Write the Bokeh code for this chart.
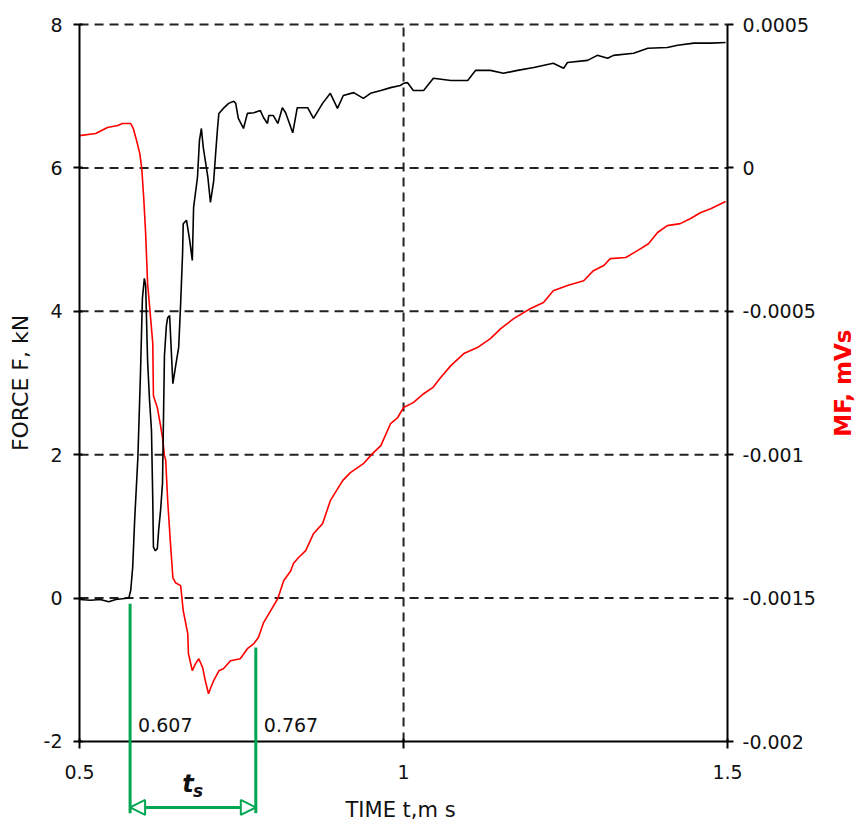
import math
from bokeh.plotting import figure
from bokeh.models import (Range1d, LinearAxis, FixedTicker, CustomJSTickFormatter,
                          Arrow, NormalHead, Label)
from bokeh.embed import file_html
from bokeh.resources import INLINE

# ---------------- data ----------------
force_t = [0.500, 0.517, 0.532, 0.545, 0.556, 0.566, 0.576, 0.579, 0.582, 0.585,
           0.590, 0.594, 0.597, 0.600, 0.602, 0.605, 0.608, 0.611, 0.613, 0.614,
           0.617, 0.620, 0.622, 0.625, 0.628, 0.631, 0.634, 0.636, 0.639, 0.644,
           0.648, 0.653, 0.656, 0.659, 0.660, 0.665, 0.670, 0.674, 0.676, 0.682,
           0.685, 0.688, 0.691, 0.698, 0.702, 0.707, 0.710, 0.713, 0.715, 0.722,
           0.730, 0.738, 0.741, 0.745, 0.753, 0.759, 0.769, 0.779, 0.784, 0.790,
           0.792, 0.799, 0.806, 0.813, 0.818, 0.829, 0.836, 0.852, 0.861, 0.875,
           0.887, 0.898, 0.907, 0.923, 0.938, 0.949, 0.965, 0.980, 0.995, 1.000,
           1.006, 1.015, 1.031, 1.046, 1.073, 1.099, 1.111, 1.134, 1.154, 1.176,
           1.201, 1.231, 1.247, 1.253, 1.284, 1.299, 1.315, 1.324, 1.355, 1.377,
           1.407, 1.423, 1.448, 1.474, 1.497]
force_kn = [-0.02, -0.03, -0.02, -0.05, -0.02, -0.01, 0.00, 0.11, 0.43, 1.08,
            1.96, 3.13, 4.18, 4.46, 4.36, 3.31, 2.76, 2.34, 1.36, 0.71,
            0.66, 0.69, 0.94, 1.22, 1.60, 3.38, 3.80, 3.91, 3.94, 2.99,
            3.22, 3.50, 4.11, 4.81, 5.22, 5.27, 4.99, 4.71, 5.45, 5.87,
            6.38, 6.55, 6.28, 5.87, 5.52, 5.82, 6.20, 6.56, 6.76, 6.83,
            6.90, 6.93, 6.90, 6.69, 6.55, 6.76, 6.77, 6.80, 6.70, 6.62,
            6.73, 6.73, 6.62, 6.84, 6.77, 6.49, 6.84, 6.84, 6.69, 6.90,
            7.04, 6.83, 7.01, 7.05, 6.97, 7.04, 7.08, 7.12, 7.15, 7.18,
            7.19, 7.08, 7.08, 7.25, 7.22, 7.22, 7.36, 7.36, 7.32, 7.36,
            7.40, 7.46, 7.39, 7.47, 7.50, 7.57, 7.53, 7.57, 7.60, 7.67,
            7.68, 7.71, 7.74, 7.74, 7.75]

mf_t = [0.500, 0.525, 0.543, 0.559, 0.566, 0.579, 0.583, 0.588, 0.593, 0.596,
        0.599, 0.602, 0.605, 0.610, 0.613, 0.614, 0.620, 0.625, 0.628, 0.631,
        0.633, 0.636, 0.640, 0.644, 0.648, 0.656, 0.660, 0.667, 0.668, 0.674,
        0.679, 0.684, 0.690, 0.694, 0.699, 0.702, 0.707, 0.715, 0.722, 0.733,
        0.748, 0.759, 0.769, 0.776, 0.784, 0.795, 0.806, 0.815, 0.826, 0.830,
        0.838, 0.849, 0.861, 0.875, 0.887, 0.906, 0.918, 0.938, 0.952, 0.965,
        0.980, 0.991, 1.000, 1.015, 1.031, 1.045, 1.057, 1.073, 1.093, 1.114,
        1.134, 1.150, 1.170, 1.196, 1.216, 1.231, 1.253, 1.278, 1.293, 1.309,
        1.319, 1.343, 1.361, 1.378, 1.392, 1.407, 1.427, 1.443, 1.458, 1.474,
        1.497]
mf_mvs = [0.000113, 0.000120, 0.000141, 0.000148, 0.000155, 0.000155, 0.000137, 0.000096, 0.000050, -0.000002,
          -0.000103, -0.000229, -0.000403, -0.000532, -0.000612, -0.000794, -0.000835, -0.000898, -0.000940, -0.001003,
          -0.001020, -0.001160, -0.001299, -0.001428, -0.001446, -0.001456, -0.001543, -0.001624, -0.001693, -0.001753,
          -0.001728, -0.001711, -0.001742, -0.001787, -0.001833, -0.001815, -0.001787, -0.001753, -0.001746, -0.001718,
          -0.001711, -0.001676, -0.001658, -0.001637, -0.001585, -0.001543, -0.001501, -0.001439, -0.001404, -0.001379,
          -0.001358, -0.001334, -0.001275, -0.001240, -0.001160, -0.001090, -0.001062, -0.001031, -0.000996, -0.000968,
          -0.000891, -0.000870, -0.000835, -0.000818, -0.000787, -0.000766, -0.000731, -0.000689, -0.000647, -0.000626,
          -0.000595, -0.000560, -0.000525, -0.000490, -0.000469, -0.000428, -0.000410, -0.000393, -0.000358, -0.000340,
          -0.000316, -0.000312, -0.000288, -0.000264, -0.000225, -0.000201, -0.000194, -0.000176, -0.000156, -0.000142,
          -0.000117]

x_ticks = [0.5, 1.0, 1.5]
force_ticks = [-2, 0, 2, 4, 6, 8]
mf_ticks = [-0.002, -0.0015, -0.001, -0.0005, 0.0, 0.0005]

x_title = "TIME t,m s"
force_title = "FORCE F, kN"
mf_title = "MF, mVs"

# t_s annotation (positions of the green markers, their labels)
ts_times = [0.578, 0.772]
ts_labels = ["0.607", "0.767"]
ts_top_force = [-0.08, -0.69]
ts_bottom_force = -3.0
ts_arrow_force = -2.92

FONT = "DejaVu Sans"
GREEN = "#00A651"
INK = "#111111"

# The frame covers the whole canvas; the axes are placed at fixed locations so
# that everything drawn around the axes box (t_s marks, titles) is not clipped.
X_VIEW = (0.378, 1.699)
F_VIEW = (-3.186, 8.335)
MF_VIEW = (-0.002296, 0.000584)

p = figure(width=856, height=826,
           x_range=Range1d(*X_VIEW), y_range=Range1d(*F_VIEW),
           output_backend="svg", toolbar_location=None,
           min_border_left=0, min_border_right=0,
           min_border_top=0, min_border_bottom=0)
p.extra_y_ranges = {"mf": Range1d(*MF_VIEW)}
p.outline_line_color = None
p.background_fill_color = "white"
p.border_fill_color = "white"
p.xgrid.visible = False
p.ygrid.visible = False
p.xaxis.visible = False
p.yaxis.visible = False

fmt = CustomJSTickFormatter(code="return tick.toString()")

ax_b = LinearAxis(ticker=FixedTicker(ticks=x_ticks), fixed_location=force_ticks[0],
                  bounds=(x_ticks[0], x_ticks[-1]))
ax_l = LinearAxis(ticker=FixedTicker(ticks=force_ticks), fixed_location=x_ticks[0],
                  bounds=(force_ticks[0], force_ticks[-1]))
ax_r = LinearAxis(y_range_name="mf", ticker=FixedTicker(ticks=mf_ticks),
                  fixed_location=x_ticks[-1], bounds=(mf_ticks[0], mf_ticks[-1]))
p.add_layout(ax_b, "below")
p.add_layout(ax_l, "left")
p.add_layout(ax_r, "right")

for ax in (ax_b, ax_l, ax_r):
    ax.formatter = fmt
    ax.axis_line_color = "black"
    ax.axis_line_width = 2
    ax.major_tick_line_color = "black"
    ax.major_tick_line_width = 2
    ax.minor_tick_line_color = None
    ax.major_label_text_font = FONT
    ax.major_label_text_font_size = "19px"
    ax.major_label_text_color = INK

ax_b.major_tick_in = 3
ax_b.major_tick_out = 7
ax_b.major_label_standoff = 17

ax_l.major_tick_in = 3
ax_l.major_tick_out = 6
ax_l.major_label_standoff = 11

ax_r.major_tick_in = 0
ax_r.major_tick_out = 6
ax_r.major_label_standoff = 9

# dashed grid lines inside the axes box
grid_kw = dict(line_color="#222222", line_width=2, line_dash="9 6")
gy = force_ticks[1:]
p.segment(x0=[x_ticks[0]] * len(gy), y0=gy, x1=[x_ticks[-1]] * len(gy), y1=gy, **grid_kw)
gx = x_ticks[1:-1]
p.segment(x0=gx, y0=[force_ticks[0]] * len(gx), x1=gx, y1=[force_ticks[-1]] * len(gx), **grid_kw)

p.line(mf_t, mf_mvs, y_range_name="mf", line_color="#FF0000", line_width=1.6)
p.line(force_t, force_kn, line_color="black", line_width=1.6)

# axis titles
p.add_layout(Label(x=x_ticks[0], y=(force_ticks[0] + force_ticks[-1]) / 2, text=force_title,
                   angle=math.pi / 2, x_offset=-59, text_align="center", text_baseline="middle",
                   text_font=FONT, text_font_size="22px", text_color=INK))
p.add_layout(Label(x=(x_ticks[0] + x_ticks[-1]) / 2, y=force_ticks[0], text=x_title,
                   x_offset=-3, y_offset=-69, text_align="center", text_baseline="alphabetic",
                   text_font=FONT, text_font_size="21px", text_color=INK))
p.add_layout(Label(x=x_ticks[-1], y=(mf_ticks[0] + mf_ticks[-1]) / 2, y_range_name="mf",
                   text=mf_title, angle=math.pi / 2, x_offset=115,
                   text_align="center", text_baseline="middle",
                   text_font=FONT, text_font_size="23px", text_font_style="bold",
                   text_color="#FF0000"))

# t_s markers
for t, top in zip(ts_times, ts_top_force):
    p.add_layout(Arrow(x_start=t, y_start=top, x_end=t, y_end=ts_bottom_force,
                       start=None, end=None, line_color=GREEN, line_width=3))
p.add_layout(Arrow(x_start=ts_times[0], y_start=ts_arrow_force,
                   x_end=ts_times[1], y_end=ts_arrow_force,
                   start=NormalHead(size=15, fill_color="white", line_color=GREEN, line_width=2),
                   end=NormalHead(size=15, fill_color="white", line_color=GREEN, line_width=2),
                   line_color=GREEN, line_width=3))
for t, lab in zip(ts_times, ts_labels):
    p.add_layout(Label(x=t, y=force_ticks[0], text=lab, x_offset=8, y_offset=16,
                       text_align="left", text_baseline="alphabetic",
                       text_font=FONT, text_font_size="19px", text_color=INK))
mid = (ts_times[0] + ts_times[1]) / 2
p.add_layout(Label(x=mid, y=force_ticks[0], text="t", x_offset=-5, y_offset=-43,
                   text_align="center", text_baseline="alphabetic",
                   text_font=FONT, text_font_size="24px", text_font_style="bold italic",
                   text_color=INK))
p.add_layout(Label(x=mid, y=force_ticks[0], text="s", x_offset=5, y_offset=-50,
                   text_align="center", text_baseline="alphabetic",
                   text_font=FONT, text_font_size="17px", text_font_style="bold italic",
                   text_color=INK))

open("out.html", "w").write(file_html(p, INLINE))
